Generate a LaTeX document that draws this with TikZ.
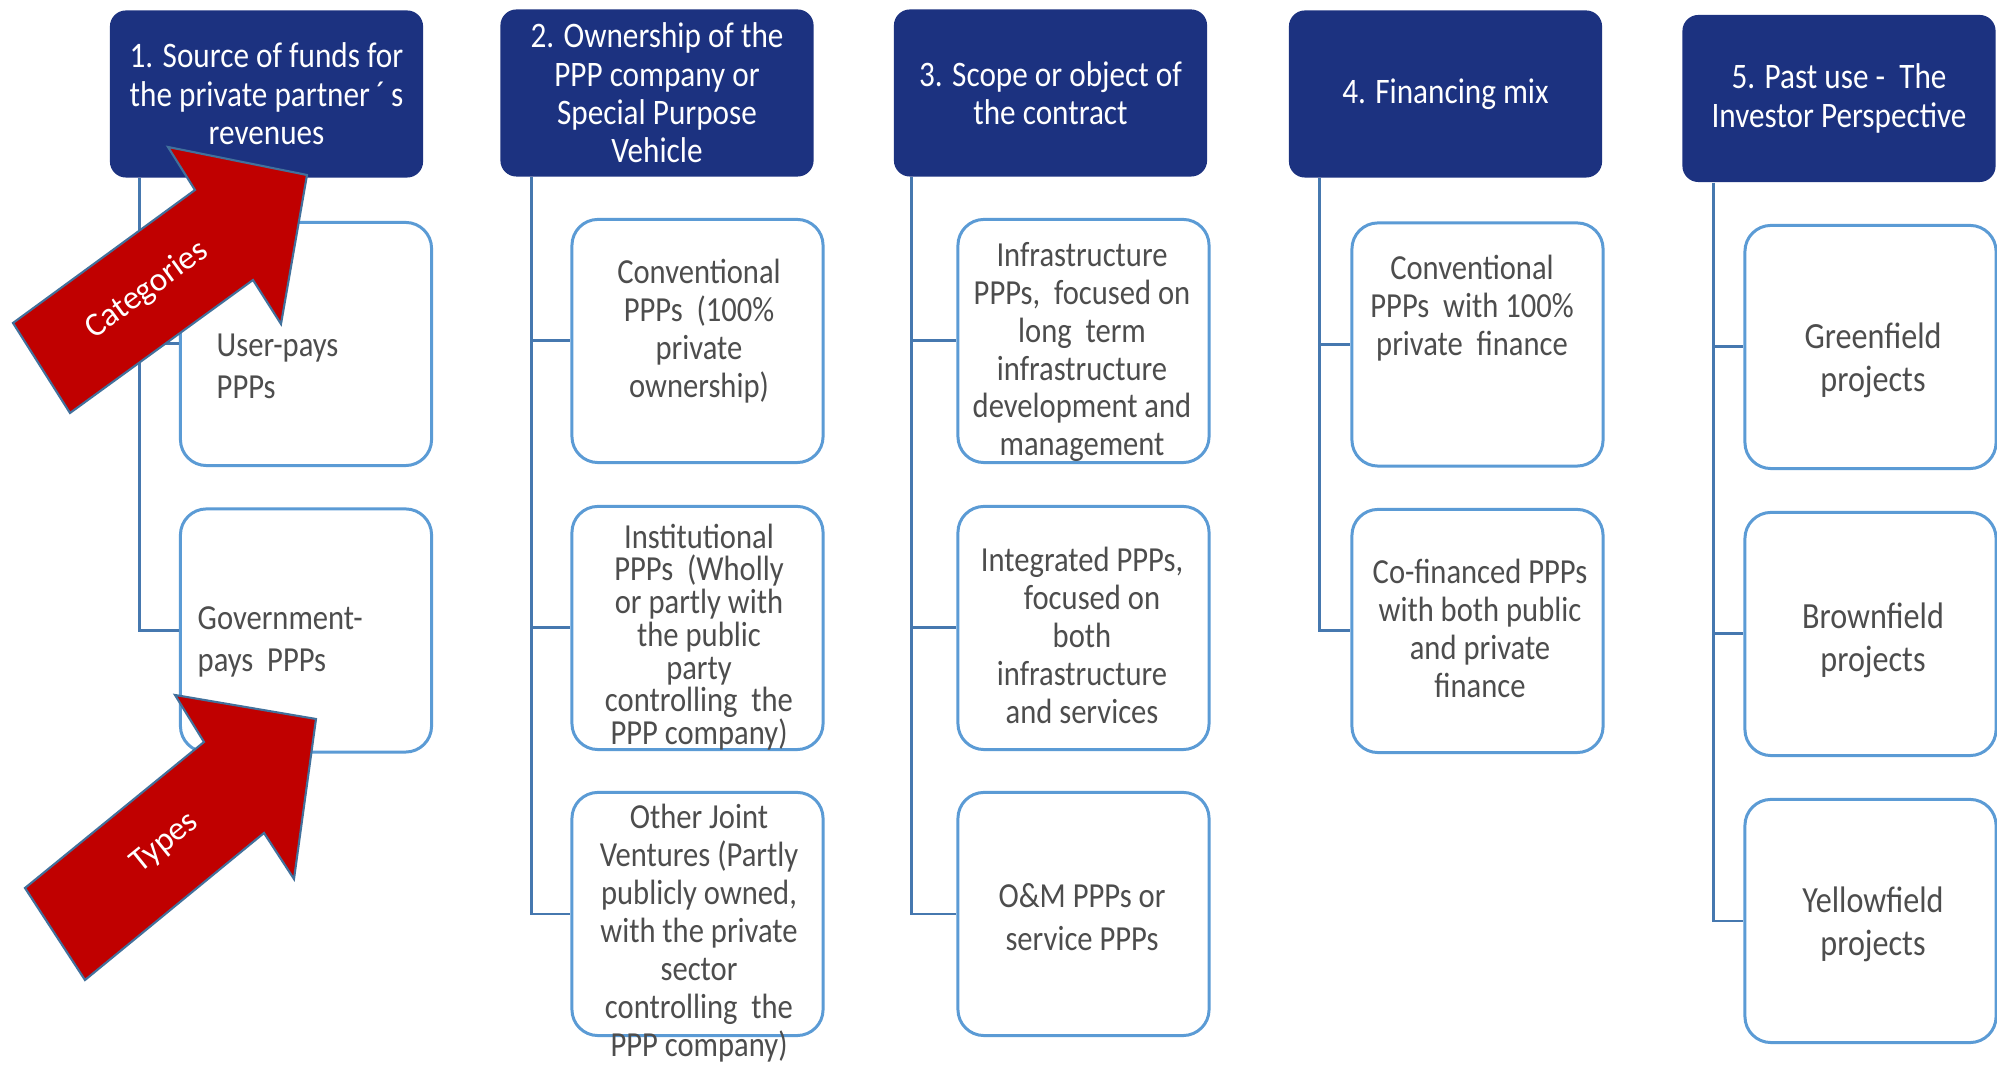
\documentclass[tikz,border=0pt]{standalone}
\usepackage{fontspec}
\setmainfont{Carlito}[FakeStretch=0.87]
\newfontfamily\calfont{Carlito}
\definecolor{hdrblue}{RGB}{28,50,128}
\definecolor{kidblue}{RGB}{91,155,213}
\definecolor{spineblue}{RGB}{70,120,175}
\definecolor{kidgray}{RGB}{77,77,77}
\definecolor{arrowred}{RGB}{192,0,0}
\definecolor{arrowedge}{RGB}{65,113,156}
\tikzset{
  hdr/.style={fill=hdrblue, draw=none, rounded corners=0.16cm, minimum width=3.13cm, minimum height=1.67cm, inner sep=0pt, text=white, align=center, font=\fontsize{10.2}{10.9}\selectfont},
  kid/.style={draw=kidblue, line width=0.85pt, fill=white, rounded corners=0.26cm, minimum width=2.51cm, minimum height=2.43cm, inner sep=0pt},
  ktext/.style={text=kidgray, align=center, inner sep=0pt, font=\fontsize{10}{10.8}\selectfont},
  spine/.style={draw=spineblue, line width=0.85pt},
  bigarrow/.style={fill=arrowred, draw=arrowedge, line width=0.6pt, line join=miter},
  arrowtext/.style={text=white, inner sep=0pt, font=\calfont\fontsize{9.5}{11}\selectfont}
}
\begin{document}
\begin{tikzpicture}[x=0.01cm, y=-0.01cm]
\useasboundingbox[fill=white] (0,0) rectangle (1997,1065);

% headers
\node[hdr] (h1) at (266.5,94) {1. Source of funds for\\the private partner\,´\,s\\revenues};
\node[hdr] (h2) at (657,93) {2. Ownership of the\\PPP company or\\Special Purpose\\Vehicle};
\node[hdr] (h3) at (1050.5,93) {3. Scope or object of\\the contract};
\node[hdr] (h4) at (1445.5,94) {4. Financing mix};
\node[hdr] (h5) at (1839,98.5) {5. Past use -~~The\\Investor Perspective};

% child boxes
\node[kid] (k11) at (306,344) {};
\node[kid] (k12) at (306,630.5) {};
\node[kid] (k21) at (697.5,341) {};
\node[kid] (k22) at (697.5,628) {};
\node[kid] (k23) at (697.5,914) {};
\node[kid] (k31) at (1083.5,341) {};
\node[kid] (k32) at (1083.5,628) {};
\node[kid] (k33) at (1083.5,914) {};
\node[kid] (k41) at (1477.5,344.5) {};
\node[kid] (k42) at (1477.5,631) {};
\node[kid] (k51) at (1870.5,347) {};
\node[kid] (k52) at (1870.5,634) {};
\node[kid] (k53) at (1870.5,921) {};

% spines
\coordinate (s1) at ([xshift=0.30cm]h1.south west);
\coordinate (s2) at ([xshift=0.32cm]h2.south west);
\coordinate (s3) at ([xshift=0.18cm]h3.south west);
\coordinate (s4) at ([xshift=0.31cm]h4.south west);
\coordinate (s5) at ([xshift=0.32cm]h5.south west);
\draw[spine] (s1) |- (k12.west);
\draw[spine] (k11.west -| s1) -- (k11.west);
\draw[spine] (s2) |- (k23.west);
\draw[spine] (k21.west -| s2) -- (k21.west);
\draw[spine] (k22.west -| s2) -- (k22.west);
\draw[spine] (s3) |- (k33.west);
\draw[spine] (k31.west -| s3) -- (k31.west);
\draw[spine] (k32.west -| s3) -- (k32.west);
\draw[spine] (s4) |- (k42.west);
\draw[spine] (k41.west -| s4) -- (k41.west);
\draw[spine] (s5) |- (k53.west);
\draw[spine] (k51.west -| s5) -- (k51.west);
\draw[spine] (k52.west -| s5) -- (k52.west);

% child texts
\node[ktext, anchor=west, align=left, font=\fontsize{10}{12}\selectfont] (t11) at (216,366) {User-pays\\PPPs};
\node[ktext, anchor=west, align=left, font=\fontsize{10}{12}\selectfont] (t12) at (197,642) {Government-\\pays~~PPPs};
\node[ktext] (t21) at (699,331) {Conventional\\PPPs~~(100\%\\private\\ownership)};
\node[ktext, font=\fontsize{10}{9.3}\selectfont] (t22) at (699,637) {Institutional\\PPPs~~(Wholly\\or partly with\\the public\\party\\controlling~~the\\PPP company)};
\node[ktext] (t23) at (699,933) {Other Joint\\Ventures (Partly\\publicly owned,\\with the private\\sector\\controlling~~the\\PPP company)};
\node[ktext] (t31) at (1082,352) {Infrastructure\\PPPs,~~focused on\\long~~term\\infrastructure\\development and\\management};
\node[ktext] (t32) at (1082,635) {Integrated PPPs,\hspace{-0.05cm}\\\hspace{0.2cm}focused on\\both\\infrastructure\\and services};
\node[ktext, font=\fontsize{10}{12.3}\selectfont] (t33) at (1082,917) {O\&M PPPs or\\service PPPs};
\node[ktext] (t41) at (1472,308) {Conventional\\PPPs~~with 100\%\\private~~finance};
\node[ktext] (t42) at (1480,628) {Co-financed PPPs\\with both public\\and private\\finance};
\node[ktext, font=\fontsize{10.5}{12.2}\selectfont] (t51) at (1873,360) {Greenfield\\projects};
\node[ktext, font=\fontsize{10.5}{12.2}\selectfont] (t52) at (1873,640) {Brownfield\\projects};
\node[ktext, font=\fontsize{10.5}{12.2}\selectfont] (t53) at (1873,924) {Yellowfield\\projects};

% red block arrows
\draw[bigarrow] (13,323) -- (195,190) -- (168,147) -- (307,175) -- (281,324) -- (253,280) -- (70,413) -- cycle;
\node[arrowtext, rotate=36] (ac) at (147,290) {Categories};
\draw[bigarrow] (25,888) -- (204,742) -- (175,695) -- (316,719) -- (294,879) -- (264,833) -- (85,980) -- cycle;
\node[arrowtext, rotate=39] (at) at (165,843) {Types};
\end{tikzpicture}
\end{document}
